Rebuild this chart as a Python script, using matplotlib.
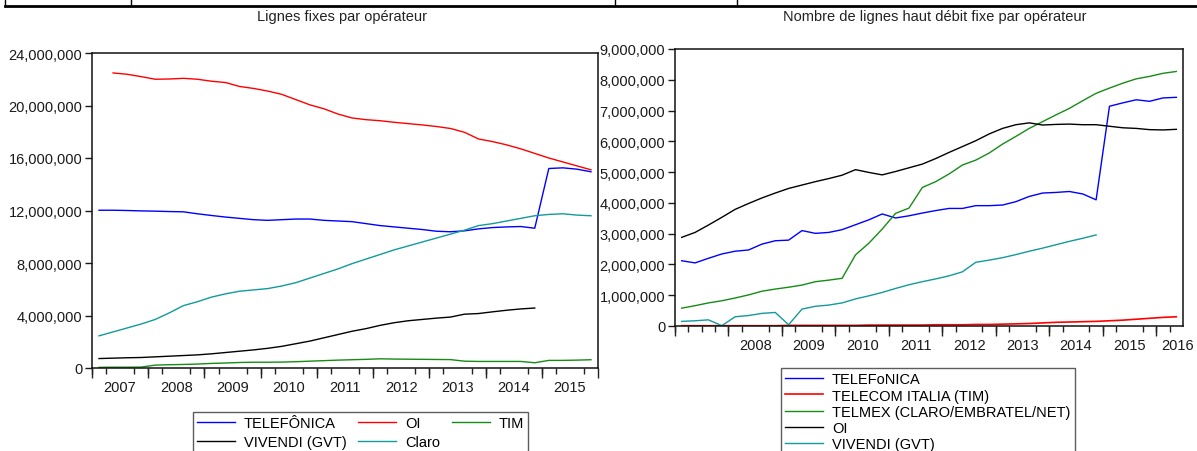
import numpy as np
import matplotlib
matplotlib.use('Agg')
import matplotlib.pyplot as plt
from matplotlib.ticker import FuncFormatter, FixedLocator

plt.rcParams['font.family'] = ['Liberation Sans', 'DejaVu Sans']
plt.rcParams['font.size'] = 10.5

# %% data, left chart (quarterly 2007Q1 - 2015Q4)
q_left = np.arange(2007, 2016, 0.25) + 0.125
telefonica = [12.02, 12.02, 12.0, 11.97, 11.95, 11.92, 11.9, 11.75,
              11.62, 11.5, 11.4, 11.3, 11.25, 11.3, 11.35, 11.35,
              11.25, 11.2, 11.15, 11.0, 10.85, 10.75, 10.65, 10.55,
              10.42, 10.38, 10.45, 10.6, 10.7, 10.75, 10.78, 10.65,
              15.2, 15.25, 15.15, 14.95]
oi = [np.nan, 22.48, 22.38, 22.2, 22.0, 22.02, 22.07, 22.0,
      21.85, 21.75, 21.45, 21.3, 21.1, 20.85, 20.45, 20.05,
      19.75, 19.35, 19.05, 18.92, 18.84, 18.72, 18.62, 18.52,
      18.4, 18.25, 17.96, 17.45, 17.25, 17.0, 16.7, 16.35,
      16.0, 15.7, 15.4, 15.1]
tim = [0.05, 0.06, 0.06, 0.07, 0.22, 0.25, 0.27, 0.3,
       0.35, 0.38, 0.42, 0.44, 0.44, 0.45, 0.48, 0.52,
       0.56, 0.6, 0.63, 0.66, 0.7, 0.68, 0.67, 0.66,
       0.65, 0.64, 0.52, 0.5, 0.5, 0.5, 0.5, 0.4,
       0.58, 0.58, 0.6, 0.63]
vivendi = [0.72, 0.75, 0.78, 0.8, 0.85, 0.9, 0.95, 1.0,
           1.08, 1.18, 1.28, 1.38, 1.5, 1.65, 1.85, 2.05,
           2.3, 2.55, 2.8, 3.0, 3.25, 3.45, 3.6, 3.7,
           3.8, 3.88, 4.1, 4.15, 4.28, 4.4, 4.5, 4.57,
           np.nan, np.nan, np.nan, np.nan]
claro = [2.45, 2.75, 3.05, 3.35, 3.7, 4.2, 4.75, 5.05,
         5.4, 5.65, 5.85, 5.95, 6.05, 6.25, 6.5, 6.85,
         7.2, 7.55, 7.95, 8.3, 8.65, 9.0, 9.3, 9.6,
         9.9, 10.2, 10.5, 10.85, 11.0, 11.2, 11.4, 11.6,
         11.7, 11.75, 11.65, 11.6]
left_names = ["TELEFÔNICA", "OI", "TIM", "VIVENDI (GVT)", "Claro"]
left_years = list(range(2007, 2016))

# %% data, right chart (quarterly 2007Q1 - 2016Q2)
q_right = np.arange(2007, 2016.5, 0.25) + 0.125
bb_telefonica = [2.12, 2.05, 2.2, 2.34, 2.43, 2.47, 2.66, 2.77, 2.79, 3.1,
                 3.01, 3.04, 3.13, 3.29, 3.45, 3.64, 3.51, 3.58, 3.67, 3.75,
                 3.82, 3.82, 3.91, 3.91, 3.93, 4.04, 4.21, 4.32, 4.34, 4.37,
                 4.29, 4.1, 7.14, 7.25, 7.35, 7.3, 7.41, 7.43]
bb_tim = [0.01, 0.01, 0.01, 0.01, 0.01, 0.01, 0.01, 0.01, 0.02, 0.02,
          0.02, 0.02, 0.02, 0.02, 0.03, 0.03, 0.03, 0.03, 0.03, 0.04,
          0.04, 0.04, 0.05, 0.05, 0.06, 0.07, 0.08, 0.1, 0.12, 0.13,
          0.14, 0.15, 0.17, 0.19, 0.22, 0.25, 0.28, 0.3]
bb_telmex = [0.58, 0.66, 0.75, 0.82, 0.91, 1.01, 1.13, 1.2, 1.26, 1.33,
             1.44, 1.49, 1.55, 2.31, 2.69, 3.15, 3.66, 3.83, 4.5, 4.69,
             4.94, 5.23, 5.39, 5.62, 5.91, 6.16, 6.42, 6.64, 6.86, 7.07,
             7.32, 7.56, 7.73, 7.89, 8.03, 8.11, 8.21, 8.27]
bb_oi = [2.88, 3.04, 3.28, 3.53, 3.79, 3.98, 4.16, 4.32, 4.47, 4.58,
         4.69, 4.79, 4.9, 5.08, 4.99, 4.91, 5.02, 5.14, 5.26, 5.44,
         5.64, 5.83, 6.02, 6.24, 6.42, 6.54, 6.6, 6.53, 6.55, 6.56,
         6.54, 6.54, 6.49, 6.44, 6.42, 6.38, 6.37, 6.39]
bb_vivendi = [0.15, 0.17, 0.2, 0.01, 0.3, 0.34, 0.41, 0.44, 0.04, 0.55,
              0.64, 0.68, 0.75, 0.88, 0.98, 1.09, 1.22, 1.34, 1.44, 1.53,
              1.63, 1.76, 2.07, 2.14, 2.22, 2.32, 2.43, 2.53, 2.64, 2.75,
              2.85, 2.96] + [np.nan] * 6
right_names = ["TELEFoNICA", "TELECOM ITALIA (TIM)", "TELMEX (CLARO/EMBRATEL/NET)",
               "OI", "VIVENDI (GVT)"]
right_years = list(range(2008, 2017))

c_blue, c_red, c_green, c_black, c_teal = '#0000ff', '#ff0000', '#168c16', '#000000', '#139a9a'

W, H = 1197, 452
fig = plt.figure(figsize=(W / 100, H / 100), dpi=100)

def px(x0, y0, x1, y1):
    return [x0 / W, 1 - y1 / H, (x1 - x0) / W, (y1 - y0) / H]

millions = FuncFormatter(lambda v, p: "{:,.0f}".format(v * 1e6))

def style_axes(ax, x0, x1, majors, minors, lab_pos, labels, ymax, ystep):
    ax.set_xlim(x0, x1)
    ax.set_ylim(0, ymax)
    ax.set_yticks(np.arange(0, ymax + 0.01, ystep))
    ax.yaxis.set_major_formatter(millions)
    ax.tick_params(axis='y', direction='out', length=5, width=1, pad=2, labelsize=10.5, colors='#1a1a1a')
    ax.set_xticks(lab_pos, labels)
    ax.xaxis.set_minor_locator(FixedLocator(minors))
    ax.tick_params(axis='x', which='major', length=0, pad=9, labelsize=10.5, colors='#1a1a1a')
    ax.tick_params(axis='x', which='minor', direction='out', length=4, width=1, color='#222222')
    sec = ax.secondary_xaxis('bottom')
    sec.set_xticks(majors, [''] * len(majors))
    sec.tick_params(direction='out', length=7, width=1, color='#222222')
    sec.spines['bottom'].set_visible(False)
    for s in ax.spines.values():
        s.set_linewidth(1.1)
        s.set_color('#111111')

# %% left chart
ax1 = fig.add_axes(px(92, 54, 598, 369))
ax1.plot(q_left, telefonica, color=c_blue, lw=1.0)
ax1.plot(q_left, oi, color=c_red, lw=1.0)
ax1.plot(q_left, tim, color=c_green, lw=1.0)
ax1.plot(q_left, vivendi, color=c_black, lw=1.0)
ax1.plot(q_left, claro, color=c_teal, lw=1.0)
style_axes(ax1, 2007, 2016, np.arange(2007, 2017), np.arange(2007, 2016, 0.25),
           np.array(left_years) + 0.5, [str(y) for y in left_years], 24, 4)

h = ax1.get_lines()
leg1 = fig.legend([h[0], h[3], h[1], h[4], h[2]],
                  [left_names[0], left_names[3], left_names[1], left_names[4], left_names[2]],
                  ncol=3, loc='upper left', bbox_to_anchor=(193 / W, 1 - 413 / H),
                  frameon=True, fancybox=False, edgecolor='#333333', fontsize=10.5,
                  handlelength=2.6, handletextpad=0.6, columnspacing=0.8,
                  labelspacing=0.3, borderpad=0.3, borderaxespad=0)
leg1.get_frame().set_linewidth(1.0)

# %% right chart
ax2 = fig.add_axes(px(675, 50, 1183, 327))
ax2.plot(q_right, bb_telefonica, color=c_blue, lw=1.0)
ax2.plot(q_right, bb_tim, color=c_red, lw=1.2)
ax2.plot(q_right, bb_telmex, color=c_green, lw=1.0)
ax2.plot(q_right, bb_oi, color=c_black, lw=1.0)
ax2.plot(q_right, bb_vivendi, color=c_teal, lw=1.0)
pos2 = np.array(right_years) + 0.5
pos2[-1] = 2016.4
style_axes(ax2, 2007, 2016.5, np.arange(2007, 2017), np.arange(2007, 2016.5, 0.25),
           pos2, [str(y) for y in right_years], 9, 1)

leg2 = fig.legend(ax2.get_lines(), right_names, ncol=1, loc='upper left',
                  bbox_to_anchor=(781 / W, 1 - 369 / H),
                  frameon=True, fancybox=False, edgecolor='#333333', fontsize=10.5,
                  handlelength=2.6, handletextpad=0.6, labelspacing=0.15,
                  borderpad=0.3, borderaxespad=0)
leg2.get_frame().set_linewidth(1.0)

# %% titles and table border at top
title_font = ['Liberation Sans Narrow', 'Liberation Sans', 'DejaVu Sans']
fig.text(342 / W, 1 - 17 / H, "Lignes fixes par opérateur", ha='center', va='center',
         fontsize=10.5, family=title_font, color='#222222')
fig.text(935 / W, 1 - 17 / H, "Nombre de lignes haut débit fixe par opérateur",
         ha='center', va='center', fontsize=10.5, family=title_font, color='#222222')

fig.add_artist(plt.Line2D([5 / W, 1], [1 - 7 / H] * 2, color='black', lw=2))
for xv in [5, 131, 615, 737]:
    fig.add_artist(plt.Line2D([xv / W] * 2, [1, 1 - 7 / H], color='black', lw=1))

plt.savefig('out.png', dpi=100)
